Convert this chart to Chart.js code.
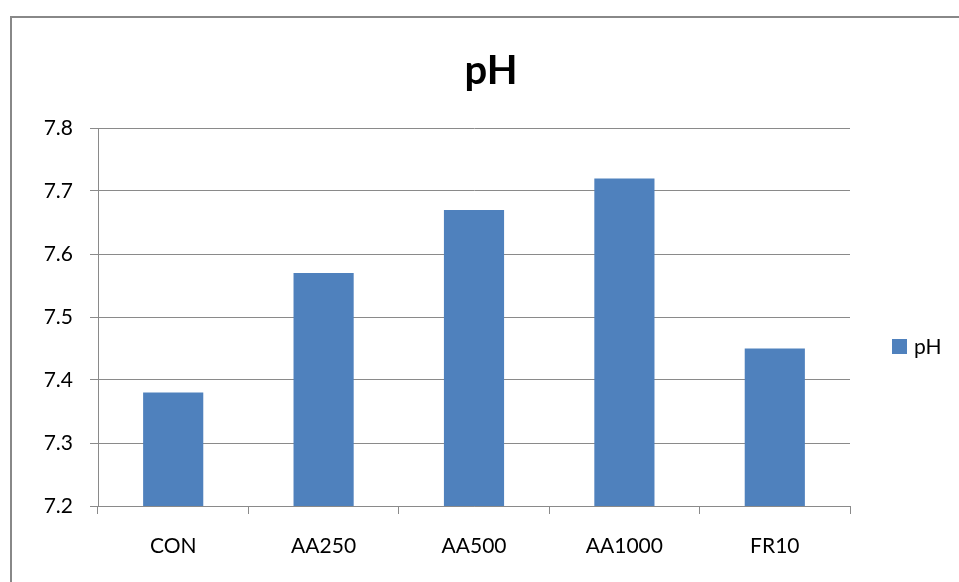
<!DOCTYPE html>
<html>
<head>
<meta charset="utf-8">
<script src="https://cdn.jsdelivr.net/npm/chart.js@4/dist/chart.umd.min.js"></script>
<style>
  html, body { margin: 0; padding: 0; background: #fff; overflow: hidden; }
  #frame { position: absolute; left: 10px; top: 16px; width: 1000px; height: 700px;
           border-left: 2px solid #888; border-top: 2px solid #888; }
  #box { position: absolute; left: 0; top: 0; width: 982px; height: 582px; }
</style>
</head>
<body>
<div id="frame"></div>
<div id="box"><canvas id="canva1" width="982" height="582"></canvas></div>
<script>
const Samples = ['CON', 'AA250', 'AA500', 'AA1000', 'FR10']
const PhValues = [7.38, 7.57, 7.67, 7.72, 7.45]
const PhTicks = [7.2, 7.3, 7.4, 7.5, 7.6, 7.7, 7.8]

const barBlue = '#4F81BD'
const lineGray = '#8a8a8a'
const fontName = 'Lato'

// legend drawn by hand so it can sit where Excel put it
const sideLegend = {
    id: 'sideLegend',
    afterDraw(chart) {
        const c = chart.ctx
        const ds = chart.data.datasets[0]
        c.save()
        c.fillStyle = ds.backgroundColor
        c.fillRect(892, 339, 15, 15)
        c.fillStyle = '#000'
        c.font = '21px ' + fontName
        c.textBaseline = 'middle'
        c.fillText(ds.label, 914, 347)
        c.restore()
    }
}

const ctx1 = document.getElementById('canva1').getContext('2d');
const myChart = new Chart(ctx1, {
    type: 'bar',
    data: {
        labels: Samples,
        datasets: [{
            label: 'pH',
            data: PhValues,
            backgroundColor: barBlue,
            barPercentage: 0.4,
            categoryPercentage: 1.0,
        }]
    },
    options: {
        responsive: false,
        animation: false,
        layout: { padding: 0 },
        scales: {
            x: {
                grid: {
                    drawOnChartArea: false,
                    drawTicks: true,
                    tickLength: 8,
                    color: lineGray,
                },
                border: { color: lineGray },
                ticks: {
                    color: '#000',
                    font: { family: fontName, size: 21 },
                    padding: 20,
                    maxRotation: 0,
                },
                afterFit: s => { s.height = 76 },
            },
            y: {
                min: 7.2,
                max: 7.8,
                afterBuildTicks: s => { s.ticks = PhTicks.map(v => ({ value: v })) },
                grid: {
                    color: lineGray,
                    tickLength: 8,
                },
                border: { color: lineGray },
                ticks: {
                    color: '#000',
                    font: { family: fontName, size: 21 },
                    padding: 17,
                    callback: v => v.toFixed(1),
                },
                afterFit: s => { s.width = 98 },
            },
            yRight: {
                position: 'right',
                grid: { display: false },
                border: { display: false },
                ticks: { display: false },
                afterFit: s => { s.width = 132 },
            },
        },
        plugins: {
            legend: { display: false },
            tooltip: { enabled: false },
            title: {
                display: true,
                text: 'pH',
                color: '#000',
                font: { family: fontName, size: 40, weight: 'bold' },
                padding: { top: 47, bottom: 33 },
            },
        }
    },
    plugins: [sideLegend]
});
</script>
</body>
</html>
